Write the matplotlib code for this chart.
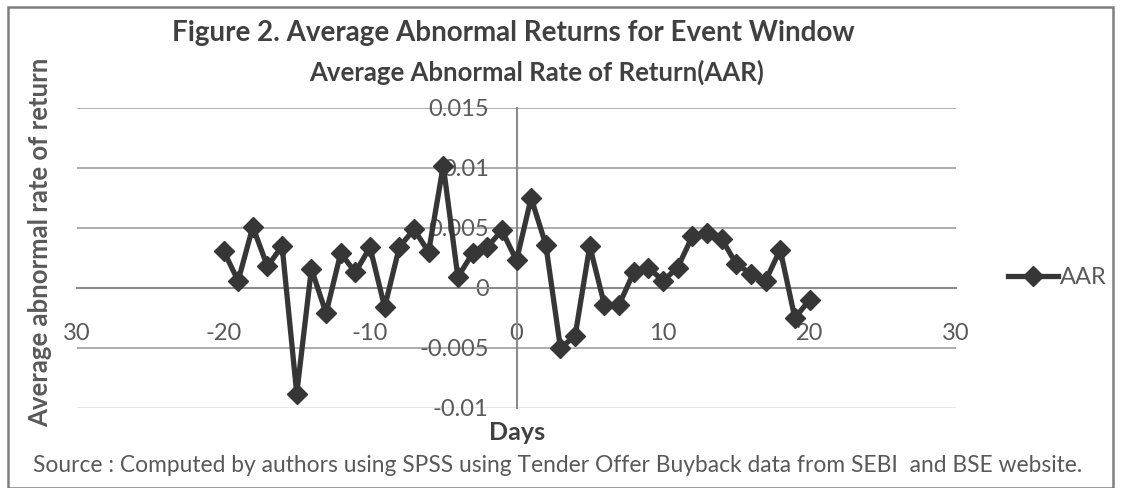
import matplotlib.pyplot as plt
from matplotlib.patches import Rectangle

plt.rcParams['font.family'] = ['Lato', 'DejaVu Sans']

# event window days and average abnormal returns
days = list(range(-20, 21))
aar = [0.0031, 0.0006, 0.0051, 0.0018, 0.0035, -0.0088, 0.0016, -0.0021, 0.0029, 0.0013,
       0.0034, -0.0016, 0.0034, 0.0049, 0.0030, 0.0102, 0.0009, 0.0029, 0.0034, 0.0048,
       0.0023, 0.0075, 0.0036, -0.0050, -0.0040, 0.0035, -0.0014, -0.0014, 0.0013, 0.0017,
       0.0006, 0.0017, 0.0043, 0.0046, 0.0041, 0.0020, 0.0012, 0.0006, 0.0032, -0.0025,
       -0.0010]

x_ticks = [-30, -20, -10, 0, 10, 20, 30]
x_tick_labels = ['30', '-20', '-10', '0', '10', '20', '30']
y_ticks = [-0.01, -0.005, 0, 0.005, 0.01, 0.015]
y_tick_labels = ['-0.01', '-0.005', '0', '0.005', '0.01', '0.015']

title = 'Figure 2. Average Abnormal Returns for Event Window'
subtitle = 'Average Abnormal Rate of Return(AAR)'
source = 'Source : Computed by authors using SPSS using Tender Offer Buyback data from SEBI  and BSE website.'

W, H = 1121, 488
fig = plt.figure(figsize=(W / 100, H / 100), dpi=100)
ax = fig.add_axes([77 / W, (H - 408) / H, 879 / W, 300 / H])

line_col = '#363636'
grid_col = '#a6a6a6'
text_col = '#595959'

for yv in y_ticks:
    if yv == 0:
        continue
    ax.axhline(yv, color=grid_col if yv != -0.01 else '#e6e6e6', lw=1.3, zorder=1)

ax.plot(days, aar, color=line_col, lw=3.8, marker='D', markersize=10.5,
        markerfacecolor=line_col, markeredgecolor=line_col, zorder=3, label='AAR')

ax.set_xlim(-30, 30)
ax.set_ylim(-0.01, 0.015)

ax.spines['left'].set_position(('data', 0))
ax.spines['bottom'].set_position(('data', 0))
ax.spines['right'].set_visible(False)
ax.spines['top'].set_visible(False)
for s in ['left', 'bottom']:
    ax.spines[s].set_color('#8c8c8c')
    ax.spines[s].set_linewidth(1.5)

ax.set_xticks(x_ticks)
ax.set_xticklabels(x_tick_labels)
ax.set_yticks(y_ticks)
ax.set_yticklabels(y_tick_labels)
ax.tick_params(axis='both', length=0, labelsize=17, labelcolor=text_col)
ax.tick_params(axis='x', pad=25)
ax.tick_params(axis='y', pad=20)

fig.text(513 / W, 1 - 33 / H, title, ha='center', va='center', fontsize=20,
         fontweight='bold', color='#404040')
fig.text(537 / W, 1 - 72 / H, subtitle, ha='center', va='center', fontsize=18.5,
         fontweight='bold', color='#404040')
fig.text(40 / W, 1 - 242 / H, 'Average abnormal rate of return', rotation=90,
         ha='center', va='center', fontsize=18.5, fontweight='bold', color=text_col)
fig.text(517 / W, 1 - 432 / H, 'Days', ha='center', va='center', fontsize=18,
         fontweight='bold', color='#404040')
fig.text(33 / W, 1 - 466 / H, source, ha='left', va='center', fontsize=16.4,
         color=text_col)

fig.legend(loc='center left', bbox_to_anchor=(1008 / W, 1 - 278 / H), frameon=False,
           fontsize=17, labelcolor=text_col, handlelength=2.1, handletextpad=0.1,
           borderpad=0, borderaxespad=0)

fig.patches.append(Rectangle((8 / W, 0), 1105 / W, 1 - 7 / H, transform=fig.transFigure,
                             fill=False, edgecolor='#7f7f7f', lw=1.8))

fig.savefig('out.png', dpi=100)
